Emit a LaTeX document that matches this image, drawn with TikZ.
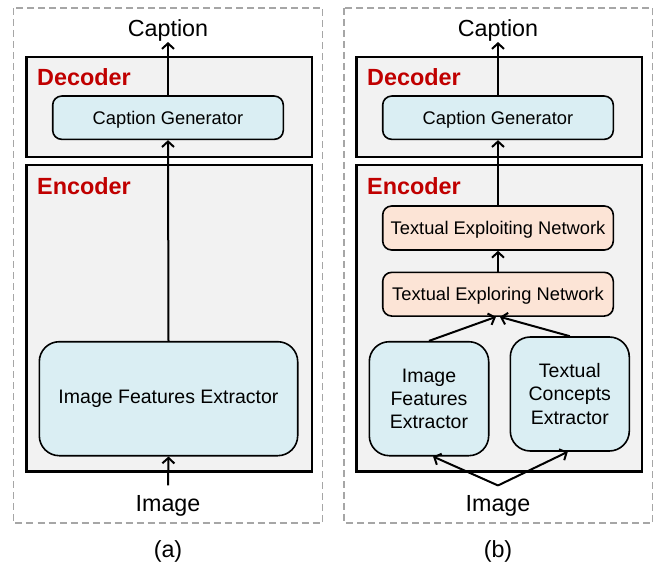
\documentclass[tikz,border=0pt]{standalone}
\usepackage{fontspec}
\setmainfont{Liberation Sans}
\usetikzlibrary{arrows.meta}
\definecolor{panelgray}{HTML}{F2F2F2}
\definecolor{boxblue}{HTML}{DAEEF3}
\definecolor{boxorange}{HTML}{FCE4D6}
\definecolor{darkred}{HTML}{C00000}
\definecolor{dashgray}{HTML}{A6A6A6}
\tikzset{
  outerbox/.style={draw=dashgray, line width=1.8pt, dash pattern=on 7pt off 4pt},
  panel/.style={draw=black, fill=panelgray, line width=2.6pt, minimum width=285.3pt, inner sep=0pt},
  paneltitle/.style={anchor=base west, inner sep=0pt, text=darkred, font=\fontsize{23.4}{28}\selectfont\bfseries},
  bluebox/.style={draw=black, fill=boxblue, line width=1.6pt, rounded corners=9pt, inner sep=0pt, text depth=0pt, font=\fontsize{18.3}{22}\selectfont},
  orangebox/.style={draw=black, fill=boxorange, line width=1.6pt, rounded corners=9pt, inner sep=0pt, text depth=0pt, font=\fontsize{18.3}{22}\selectfont},
  extbox/.style={draw=black, fill=boxblue, line width=1.6pt, rounded corners=20pt, inner sep=0pt, align=center, font=\fontsize{19.5}{23.3}\selectfont},
  bigtext/.style={anchor=base, font=\fontsize{23.3}{28}\selectfont},
  arr/.style={draw=black, line width=2pt, -{Straight Barb[length=5.5pt,width=12pt,line width=2pt]}}
}
\begin{document}
\begin{tikzpicture}[x=1pt,y=-1pt]
\useasboundingbox (0,0) rectangle (654,567);
% outer dashed frames
\draw[outerbox] (13.5,8) rectangle (322.5,523);
\draw[outerbox] (344,8) rectangle (652.5,523);

% ---------- panel (a) ----------
\node[panel, minimum height=100pt] (decA) at (169.35,107) {};
\node[panel, minimum height=306.7pt] (encA) at (169.35,318.35) {};
\node[paneltitle] (decAt) at (37,86) {Decoder};
\node[paneltitle] (encAt) at (37,195) {Encoder};
\node[bluebox, minimum width=230.6pt, minimum height=43.3pt] (cgA) at (168,117.7) {Caption Generator};
\node[extbox, minimum width=258.4pt, minimum height=114pt] (ifeA) at (168.5,398.7) {Image Features Extractor};
\node[bigtext, inner sep=0pt] (capA) at (168,37) {Caption};
\node[bigtext, inner sep=10pt] (imgA) at (168,511.7) {Image};
\node[bigtext, inner sep=0pt] (la) at (168,557) {(a)};
\draw[arr] (cgA.north) -- (capA.south);
\draw[arr] (ifeA.north) -- (cgA.south);
\draw[arr] (imgA.north) -- (ifeA.south);

% ---------- panel (b) ----------
\node[panel, minimum height=100pt] (decB) at (499.35,107) {};
\node[panel, minimum height=306.7pt] (encB) at (499.35,318.35) {};
\node[paneltitle] (decBt) at (367,86) {Decoder};
\node[paneltitle] (encBt) at (367,195) {Encoder};
\node[bluebox, minimum width=230.6pt, minimum height=43.3pt] (cgB) at (498,117.7) {Caption Generator};
\node[orangebox, minimum width=230.6pt, minimum height=44pt] (texn) at (498,228) {Textual Exploiting Network};
\node[orangebox, minimum width=230.6pt, minimum height=43.7pt] (tern) at (498,294.2) {Textual Exploring Network};
\node[extbox, minimum width=119.4pt, minimum height=114pt] (ifeB) at (429,398.7) {Image\\Features\\Extractor};
\node[extbox, minimum width=119pt, minimum height=114pt] (tce) at (569.8,394) {Textual\\Concepts\\Extractor};
\node[bigtext, inner sep=0pt] (capB) at (498,37) {Caption};
\node[bigtext, inner sep=10pt] (imgB) at (498,511.7) {Image};
\node[bigtext, inner sep=0pt] (lb) at (498,557) {(b)};
\draw[arr] (cgB.north) -- (capB.south);
\draw[arr] (texn.north) -- (cgB.south);
\draw[arr] (tern.north) -- (texn.south);
\draw[arr] (ifeB.north) -- ([xshift=-2pt]tern.south);
\draw[arr] (tce.north) -- ([xshift=2pt]tern.south);
\draw[arr] (imgB.north) -- ([xshift=4pt]ifeB.south);
\draw[arr] (imgB.north) -- ([xshift=-2pt]tce.south);
\end{tikzpicture}
\end{document}
